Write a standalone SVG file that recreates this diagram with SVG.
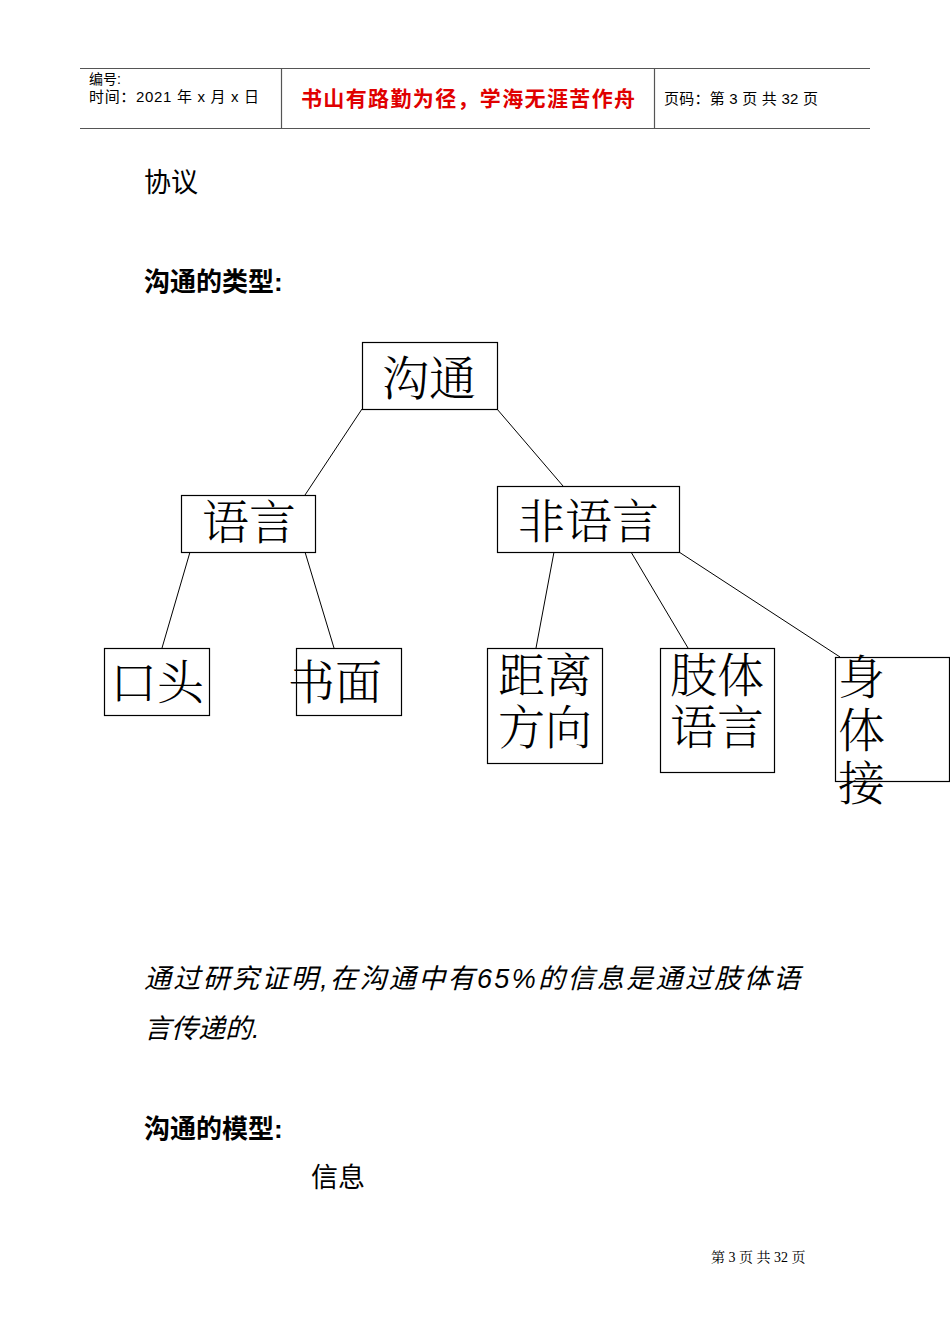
<svg xmlns="http://www.w3.org/2000/svg" width="950" height="1344" viewBox="0 0 950 1344">
<style>
text{font-family:"Liberation Sans","Noto Sans CJK SC",sans-serif;fill:#000}
.big{font-family:"Noto Serif CJK SC","Noto Sans CJK SC",serif;font-size:47px;font-weight:300}
.box{fill:#fff;stroke:#000;stroke-width:1.2}
.c line{stroke:#000;stroke-width:1}
.h line{stroke:#555;stroke-width:1.2}
</style>
<rect width="950" height="1344" fill="#fff"/>
<g class="h">
<line x1="80" y1="68.5" x2="870" y2="68.5"/>
<line x1="80" y1="128.5" x2="870" y2="128.5"/>
<line x1="281.5" y1="68" x2="281.5" y2="128"/>
<line x1="654.5" y1="68" x2="654.5" y2="128"/>
</g>
<text x="89" y="84" font-size="14">编号:</text>
<text x="89" y="102" font-size="15" textLength="170">时间：2021 年 x 月 x 日</text>
<text x="301" y="106" font-size="21" textLength="334" style="fill:#e00000;font-weight:bold">书山有路勤为径，学海无涯苦作舟</text>
<text x="664" y="104" font-size="15" textLength="154">页码：第 3 页 共 32 页</text>
<text x="144" y="192" font-size="27">协议</text>
<text x="144" y="291" font-size="26" font-weight="bold">沟通的类型:</text>
<g class="c">
<line x1="362" y1="409" x2="305" y2="495"/>
<line x1="497" y1="409" x2="563" y2="486"/>
<line x1="190" y1="552" x2="162" y2="648"/>
<line x1="305" y1="552" x2="334" y2="648"/>
<line x1="554" y1="552" x2="536" y2="648"/>
<line x1="631" y1="552" x2="688" y2="648"/>
<line x1="679" y1="552" x2="840" y2="657"/>
</g>
<g id="n1"><rect class="box" x="362.5" y="342.5" width="135" height="67"/><text class="big" x="382" y="395">沟通</text></g>
<g id="n2"><rect class="box" x="181.5" y="495.5" width="134" height="57"/><text class="big" x="202" y="539">语言</text></g>
<g id="n3"><rect class="box" x="497.5" y="486.5" width="182" height="66"/><text class="big" x="518" y="538">非语言</text></g>
<g id="n4"><rect class="box" x="104.5" y="648.5" width="105" height="67"/><text class="big" x="110" y="699">口头</text></g>
<g id="n5"><rect class="box" x="296.5" y="648.5" width="105" height="67"/><text class="big" x="288" y="699">书面</text></g>
<g id="n6"><rect class="box" x="487.5" y="648.5" width="115" height="115"/><text class="big" x="498" y="692">距离</text><text class="big" x="498" y="744">方向</text></g>
<g id="n7"><rect class="box" x="660.5" y="648.5" width="114" height="124"/><text class="big" x="670" y="692">肢体</text><text class="big" x="670" y="744">语言</text></g>
<g id="n8"><rect class="box" x="835.5" y="657.5" width="114" height="124"/><text class="big" x="838" y="694">身</text><text class="big" x="838" y="747">体</text><text class="big" x="838" y="800">接</text></g>
<text x="144" y="988" font-size="27" font-style="italic" textLength="656">通过研究证明,在沟通中有65%的信息是通过肢体语</text>
<text x="144" y="1038" font-size="27" font-style="italic">言传递的.</text>
<text x="144" y="1138" font-size="26" font-weight="bold">沟通的模型:</text>
<text x="311" y="1187" font-size="27">信息</text>
<text x="711" y="1262" font-size="14" style="font-family:'Liberation Serif','Noto Serif CJK SC',serif">第 3 页 共 32 页</text>
</svg>
